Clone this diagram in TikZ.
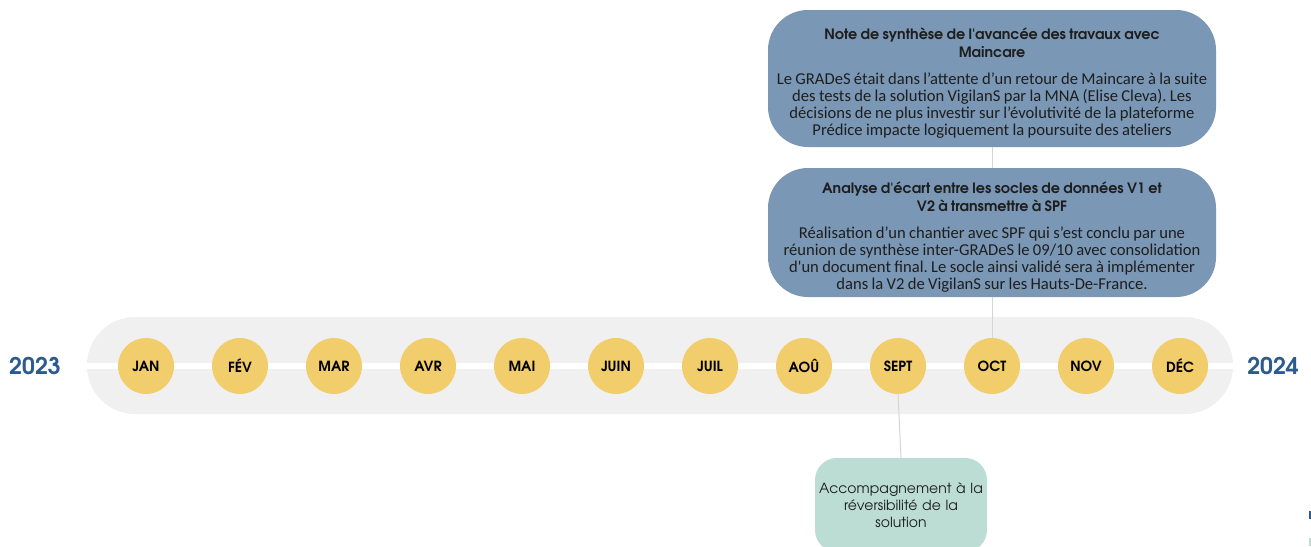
\documentclass[tikz,border=0pt]{standalone}
\usepackage{fontspec}
\setmainfont{Carlito}
\newfontfamily\gothic{texgyreadventor}[Extension=.otf, UprightFont=*-regular, BoldFont=*-bold, ItalicFont=*-italic, BoldItalicFont=*-bolditalic]
\definecolor{gold}{HTML}{F2CD6C}
\definecolor{bandgray}{HTML}{F0F0F0}
\definecolor{boxblue}{HTML}{7A97B5}
\definecolor{tealbox}{HTML}{BCDDD3}
\definecolor{yearblue}{HTML}{2B5C8F}
\definecolor{conngray}{HTML}{D5D5D5}
\definecolor{textdark}{HTML}{1E1E1E}
\newcommand{\titlef}{\gothic\bfseries\fontsize{14.3}{18}\selectfont}
\newcommand{\bodyf}{\fontsize{16.6}{17}\selectfont}
\setlength{\parindent}{0pt}
\frenchspacing
\begin{document}
\begin{tikzpicture}[x=1pt,y=-1pt,
  band/.style={fill=bandgray, rounded corners=48pt, minimum width=1146pt, minimum height=97pt, inner sep=0pt},
  month/.style={circle, fill=gold, minimum size=56pt, inner sep=0pt, text=black, font=\gothic\bfseries\fontsize{14}{14}\selectfont},
  bluebox/.style={fill=boxblue, rounded corners=40pt, minimum width=448pt, text width=446pt, align=center, inner sep=0pt, text=textdark},
  greenbox/.style={fill=tealbox, rounded corners=22pt, minimum width=172pt, minimum height=94pt, text width=170pt, align=center, inner sep=0pt, text=textdark, font=\gothic\fontsize{14}{17}\selectfont},
  conn/.style={draw=conngray, line width=1pt},
  yearlab/.style={font=\gothic\bfseries\fontsize{23}{23}\selectfont, text=yearblue}
]
\useasboundingbox (0,0) rectangle (1311,546);
\clip (0,0) rectangle (1311,546);
\node[band] (band) at (660,365.5) {};
\draw[white, line width=6pt] (band.west) -- (band.east);
\foreach \m [count=\i] in {JAN,FÉV,MAR,AVR,MAI,JUIN,JUIL,AOÛ,SEPT,OCT,NOV,DÉC}{
  \node[month] (m\i) at ({146+94*(\i-1)},366) {\m};
}
\node[yearlab] (y1) at (35,366) {2023};
\node[yearlab] (y2) at (1273,366) {2024};
\node[bluebox, minimum height=137pt] (n1) at (992,78.5) {%
  \par\vspace*{3pt}%
  {\titlef Note de synthèse de l\textquotesingle avancée des travaux avec\\Maincare\par}\vspace{10pt}%
  {\bodyf Le GRADeS était dans l’attente d’un retour de Maincare à la suite\\des tests de la solution VigilanS par la MNA (Elise Cleva). Les\\décisions de ne plus investir sur l’évolutivité de la plateforme\\Prédice impacte logiquement la poursuite des ateliers\par}};
\node[bluebox, minimum height=129pt] (n2) at (992,232.5) {%
  \par\vspace*{3pt}%
  {\titlef Analyse d\textquotesingle écart entre les socles de données V1 et\\V2 à transmettre à SPF\par}\vspace{10pt}%
  {\bodyf Réalisation d’un chantier avec SPF qui s’est conclu par une\\réunion de synthèse inter-GRADeS le 09/10 avec consolidation\\d\textquotesingle un document final. Le socle ainsi validé sera à implémenter\\dans la V2 de VigilanS sur les Hauts-De-France.\par}};
\node[greenbox] (n3) at (901,505) {Accompagnement à la\\réversibilité de la\\solution};
\draw[conn] (n1.south) -- (n2.north);
\draw[conn] (n2.south) -- (m10.north);
\draw[conn] (m9.south) -- (n3.north);
\fill[yearblue] (1308.5,511) rectangle (1311,519);
\fill[tealbox] (1308.5,538) rectangle (1311,546);
\end{tikzpicture}
\end{document}
